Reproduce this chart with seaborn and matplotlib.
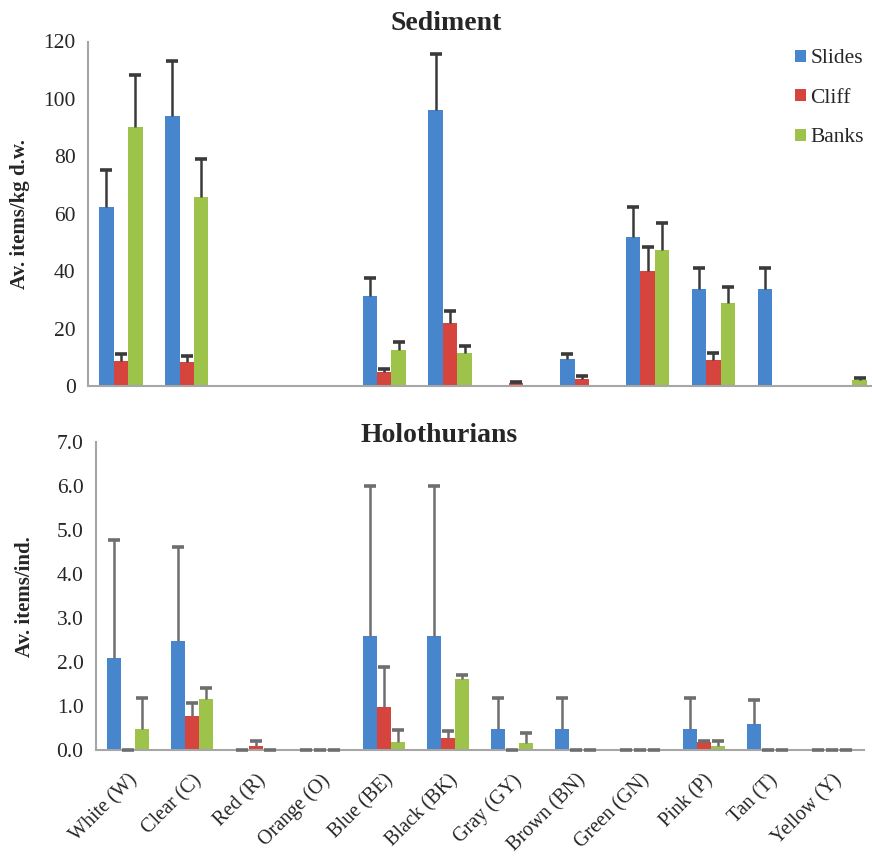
import matplotlib
matplotlib.use("Agg")
import matplotlib.pyplot as plt
import numpy as np
import pandas as pd
import seaborn as sns

categories = ["White (W)", "Clear (C)", "Red (R)", "Orange (O)", "Blue (BE)",
              "Black (BK)", "Gray (GY)", "Brown (BN)", "Green (GN)", "Pink (P)",
              "Tan (T)", "Yellow (Y)"]
sites = ["Slides", "Cliff", "Banks"]
colors = ["#4785cc", "#d6453d", "#9dc34b"]

# Sediment: mean items/kg d.w. and upper error
sed_slides = [62.4, 93.9, 0, 0, 31.2, 96.2, 0, 9.3, 51.8, 33.8, 33.8, 0]
sed_slides_err = [12.7, 19.2, 0, 0, 6.4, 19.3, 0, 2.0, 10.5, 7.3, 7.3, 0]
sed_cliff = [8.7, 8.2, 0, 0, 5.0, 21.8, 1.2, 2.6, 40.2, 9.0, 0, 0]
sed_cliff_err = [2.4, 2.1, 0, 0, 0.8, 4.4, 0.3, 0.9, 8.2, 2.4, 0, 0]
sed_banks = [90.1, 65.9, 0, 0, 12.6, 11.4, 0, 0, 47.4, 28.8, 0, 2.0]
sed_banks_err = [18.3, 13.2, 0, 0, 2.9, 2.6, 0, 0, 9.5, 5.8, 0, 0.7]

# Holothurians: mean items/ind. and upper error
hol_slides = [2.1, 2.48, 0, 0, 2.6, 2.6, 0.48, 0.48, 0, 0.48, 0.6, 0]
hol_slides_err = [2.68, 2.14, 0, 0, 3.4, 3.4, 0.71, 0.71, 0, 0.71, 0.54, 0]
hol_cliff = [0, 0.78, 0.08, 0, 0.98, 0.28, 0, 0, 0, 0.19, 0, 0]
hol_cliff_err = [0, 0.28, 0.13, 0, 0.9, 0.15, 0, 0, 0, 0.02, 0, 0]
hol_banks = [0.48, 1.15, 0, 0, 0.19, 1.62, 0.15, 0, 0, 0.08, 0, 0]
hol_banks_err = [0.71, 0.25, 0, 0, 0.26, 0.08, 0.24, 0, 0, 0.13, 0, 0]

SERIF = "Liberation Serif"


def long_df(vals, errs):
    rows = []
    for s, v, e in zip(sites, vals, errs):
        for c, vv, ee in zip(categories, v, e):
            rows.append(dict(color=c, site=s, value=vv, err=ee))
    return pd.DataFrame(rows)


def panel(ax, df, ecolor, zero_caps):
    sns.barplot(data=df, x="color", y="value", hue="site", order=categories,
                hue_order=sites, palette=colors, width=0.66, errorbar=None,
                saturation=1, linewidth=0, ax=ax)
    for cont, s in zip(ax.containers, sites):
        sub = df[df.site == s].set_index("color").loc[categories]
        for bar, v, e in zip(cont, sub.value, sub.err):
            if v == 0 and e == 0 and not zero_caps:
                continue
            x = bar.get_x() + bar.get_width() / 2
            # one-sided (upper) error bar: stem plus a single cap on top
            if e > 0:
                ax.vlines(x, v, v + e, color=ecolor, lw=1.8, zorder=3)
            ax.plot([x], [v + e], marker="_", ms=8.5, mew=2.6, color=ecolor,
                    zorder=4, clip_on=False)
    ax.set_xlim(-0.5, len(categories) - 0.5)
    ax.set_xlabel(""); ax.set_ylabel("")
    for sp in ["top", "right"]:
        ax.spines[sp].set_visible(False)
    for sp in ["left", "bottom"]:
        ax.spines[sp].set_color("#a6a6a6")
        ax.spines[sp].set_linewidth(1.5)
    ax.set_xticks(np.arange(-0.5, len(categories), 1), minor=True)
    ax.tick_params(axis="x", which="minor", length=5, width=1.2, color="#a6a6a6")
    ax.tick_params(axis="x", which="major", length=0)
    ax.tick_params(axis="y", length=5, width=1.2, color="#a6a6a6",
                   labelsize=15.5, pad=4)


sns.set_style("white")
plt.rcParams["font.family"] = [SERIF, "DejaVu Serif"]

fig = plt.figure(figsize=(8.72, 8.58), dpi=100)
ax1 = fig.add_axes([88 / 872, 1 - 386 / 858, 790 / 872, 344.5 / 858])
ax2 = fig.add_axes([96 / 872, 1 - 750 / 858, 768 / 872, 308 / 858])

sed = long_df([sed_slides, sed_cliff, sed_banks],
              [sed_slides_err, sed_cliff_err, sed_banks_err])
hol = long_df([hol_slides, hol_cliff, hol_banks],
              [hol_slides_err, hol_cliff_err, hol_banks_err])

panel(ax1, sed, "#3a3a3a", zero_caps=False)
ax1.set_ylim(0, 120)
ax1.set_yticks(range(0, 121, 20))
ax1.set_yticklabels([str(v) for v in range(0, 121, 20)], fontfamily=SERIF)
ax1.set_xticklabels([])
handles, labels = ax1.get_legend_handles_labels()
ax1.legend(handles, labels, loc="upper left", bbox_to_anchor=(776 / 872, 1 - 30 / 858),
           bbox_transform=fig.transFigure, frameon=False, handlelength=0.5,
           handleheight=0.5, handletextpad=0.2, labelspacing=0.95,
           prop=dict(family=SERIF, size=15.5))

panel(ax2, hol, "#6e6e6e", zero_caps=True)
ax2.set_ylim(0, 7)
ax2.set_yticks(np.arange(0, 7.1, 1))
ax2.set_yticklabels([f"{v:.1f}" for v in np.arange(0, 7.1, 1)], fontfamily=SERIF)
ax2.set_xticks(range(len(categories)))
ax2.set_xticklabels(categories, rotation=45, ha="right", rotation_mode="anchor",
                    fontfamily=SERIF, fontsize=14.5)
ax2.tick_params(axis="x", which="major", pad=15)
if ax2.get_legend():
    ax2.get_legend().remove()

fig.text(446 / 872, 1 - 23 / 858, "Sediment", ha="center", va="center",
         fontsize=20, fontweight="bold", family=SERIF)
fig.text(439 / 872, 1 - 435 / 858, "Holothurians", ha="center", va="center",
         fontsize=20, fontweight="bold", family=SERIF)
fig.text(20 / 872, 1 - 214 / 858, "Av. items/kg d.w.", rotation=90, ha="center",
         va="center", fontsize=15, fontweight="bold", family=SERIF)
fig.text(25 / 872, 1 - 597 / 858, "Av. items/ind.", rotation=90, ha="center",
         va="center", fontsize=15, fontweight="bold", family=SERIF)

fig.savefig("out.png", dpi=100)
